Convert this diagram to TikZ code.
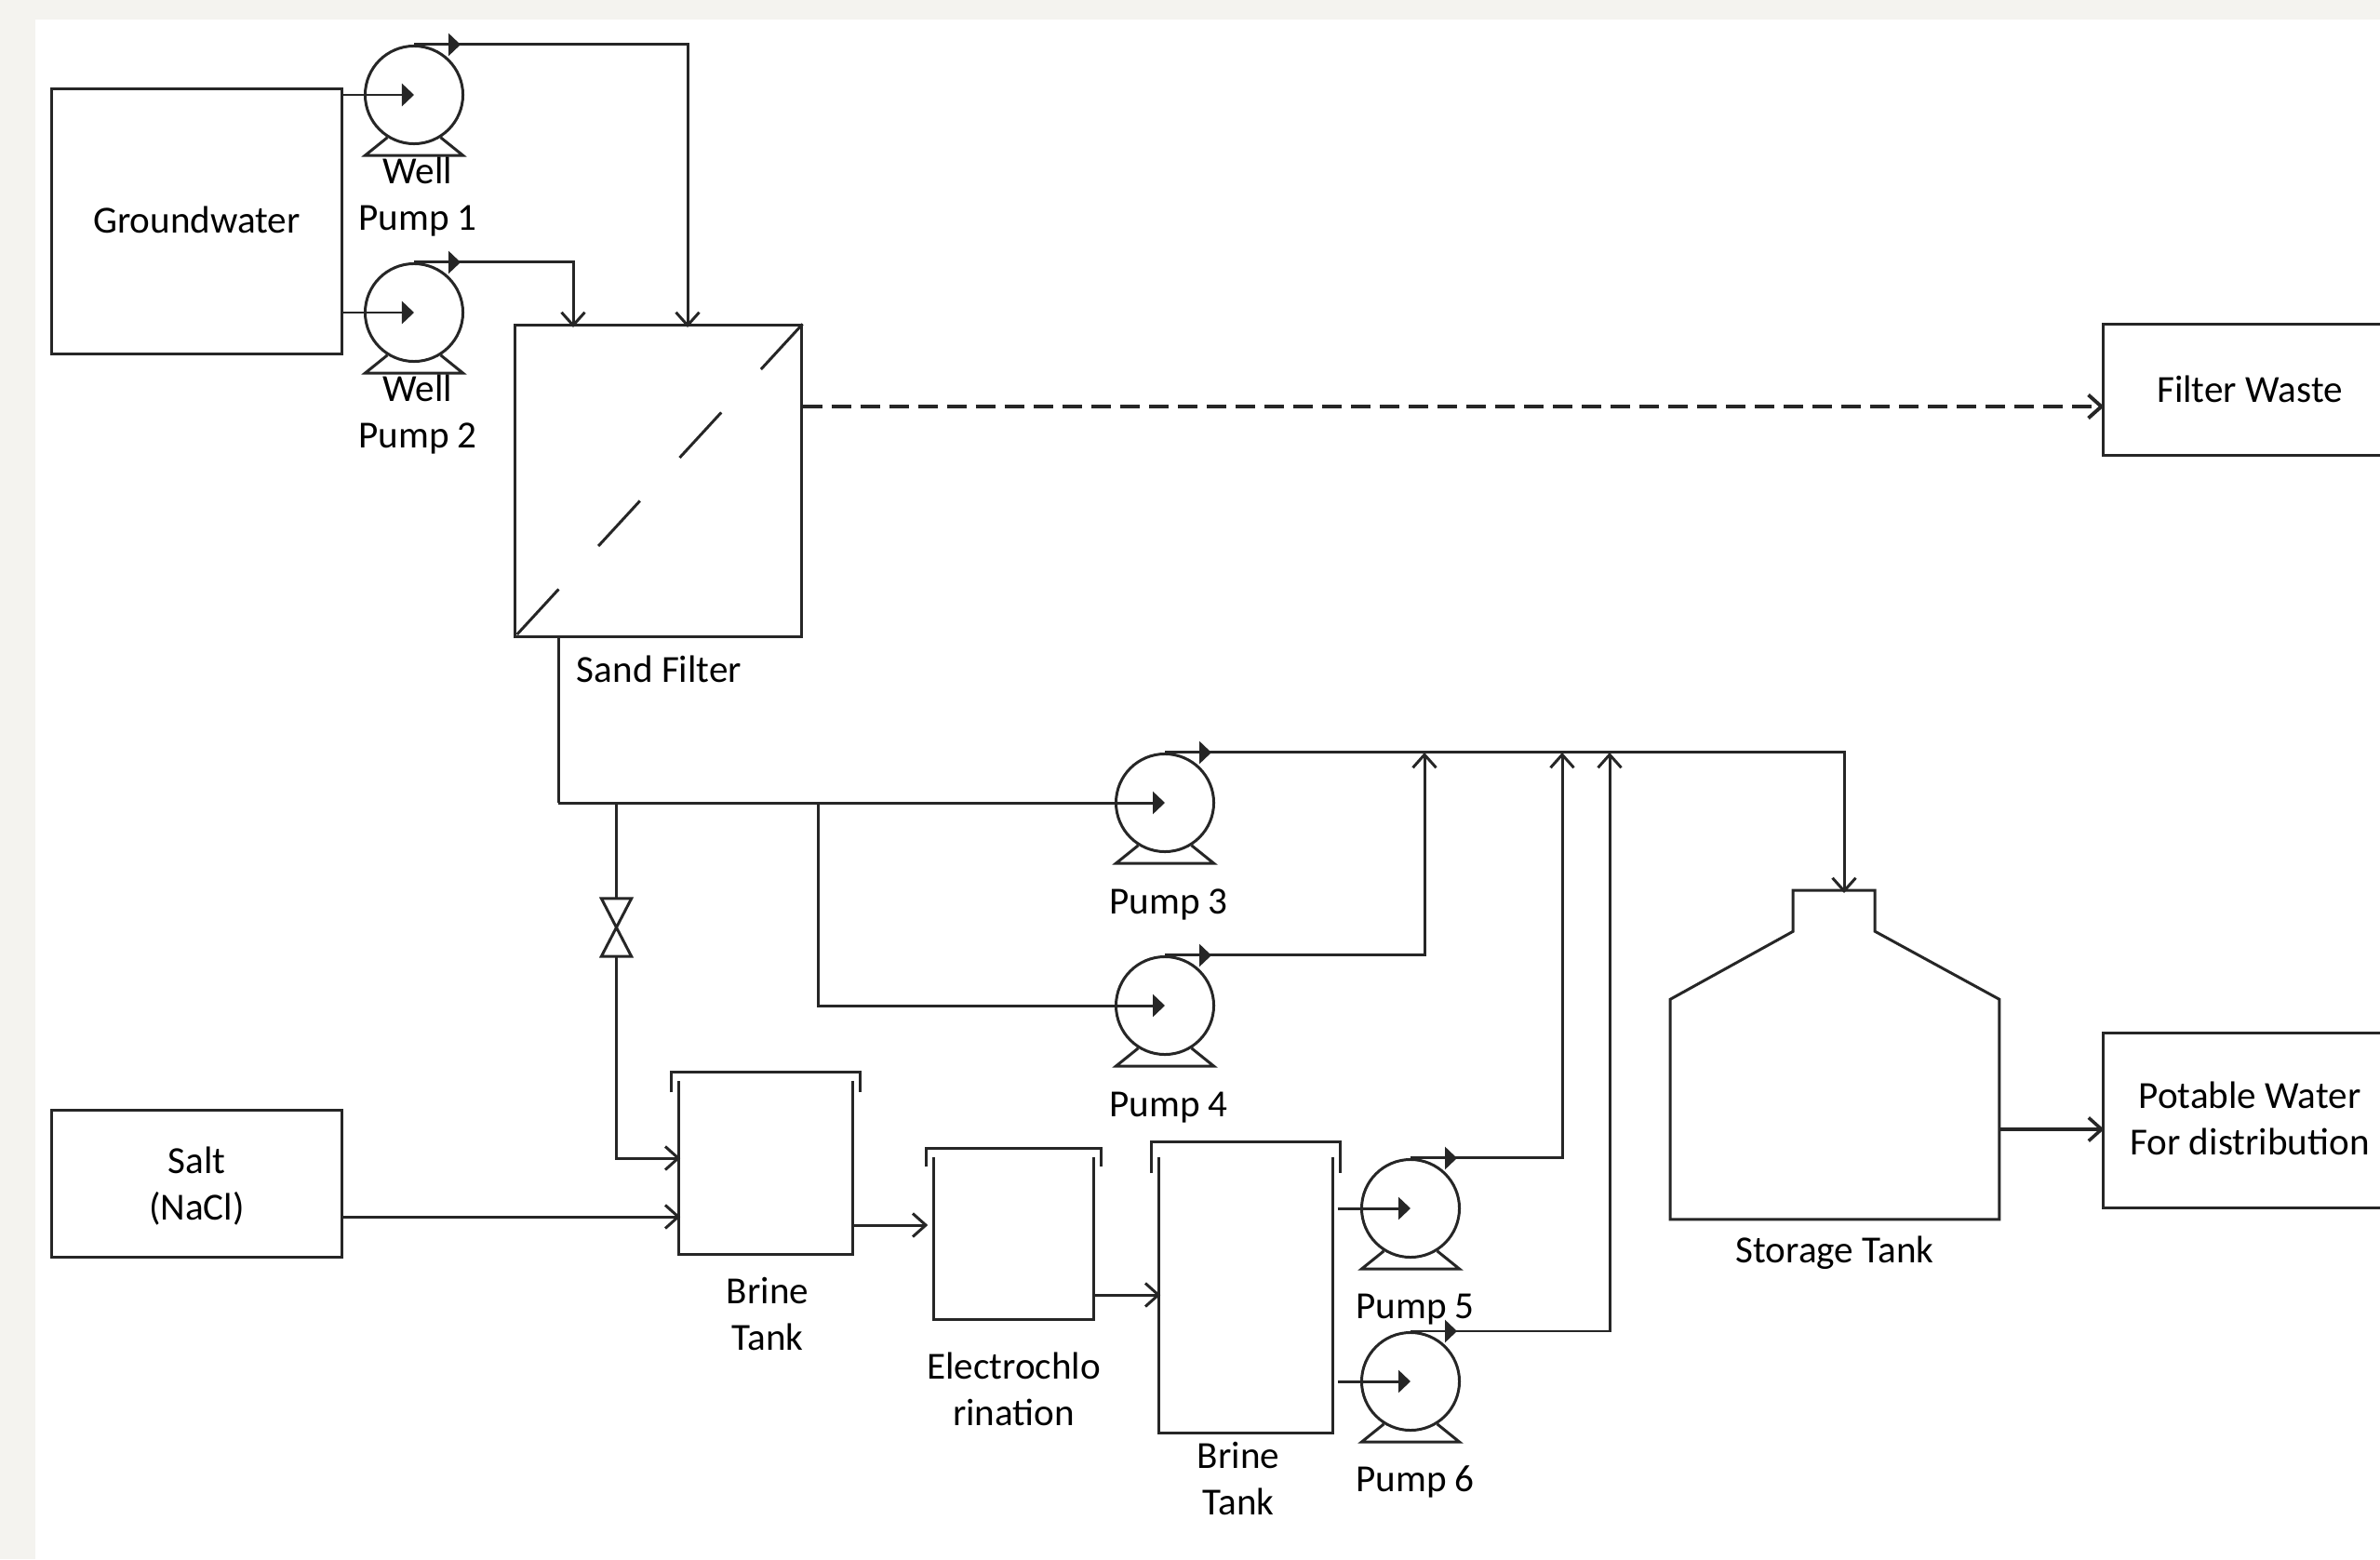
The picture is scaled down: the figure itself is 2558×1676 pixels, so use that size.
\documentclass[tikz,border=0pt]{standalone}
\usepackage{xcolor}
\usepackage{fontspec}
\setmainfont{Carlito}
\usepackage{tikz}
\usetikzlibrary{arrows.meta,positioning}
\definecolor{paper}{RGB}{244,243,239}
\definecolor{ink}{RGB}{38,38,38}

\begin{document}
\begin{tikzpicture}[
    x=0.01cm, y=-0.01cm,
    pipe/.style={draw=ink, line width=0.85pt},
    arr/.style={pipe, shorten >=-0.02cm, -{Straight Barb[length=1.4mm,width=2.5mm]}},
    head/.style={pipe, -{Triangle[length=1.3mm,width=2.4mm]}},
    box/.style={pipe, minimum width=3.11cm, inner sep=0pt},
    pump/.style={pipe, circle, minimum size=1.05cm, inner sep=0pt},
    tank/.style={inner sep=0pt},
    lab/.style={inner sep=0pt, align=center, font=\fontsize{11.7}{14.2}\selectfont}
]
\clip (0,0) rectangle (2558,1676);
\fill[paper] (0,0) rectangle (2558,1676);
\fill[white] (38,21) rectangle (2558,1676);

% sources and sinks
\node[box, minimum height=2.84cm] (gw) at (211.5,238) {};
\node[box, minimum height=1.57cm] (salt) at (211.5,1272.5) {};
\node[box, minimum width=3.14cm, minimum height=1.40cm] (waste) at (2418,419) {};
\node[box, minimum width=3.14cm, minimum height=1.87cm] (water) at (2418,1204.5) {};
\node[lab, yshift=0.02cm] at (gw) {Groundwater};
\node[lab, yshift=-0.03cm] at (salt) {Salt\\(NaCl)};
\node[lab, yshift=0.01cm] at (waste) {Filter Waste};
\node[lab, yshift=0.02cm] at (water) {Potable Water\\For distribution};

% pumps
\node[pump] (wp1) at (445,102) {};
\node[pump] (wp2) at (445,336) {};
\node[pump] (p3) at (1252,863) {};
\node[pump] (p4) at (1252,1081) {};
\node[pump] (p5) at (1516,1299) {};
\node[pump] (p6) at (1516,1485) {};
\foreach \p in {wp1,wp2,p3,p4,p5,p6}
    \draw[pipe] (\p.-122) -- ([shift={(-52.5,11)}]\p.south) -- ([shift={(52.5,11)}]\p.south) -- (\p.-58);
\node[lab, below=0.12cm of wp1, xshift=0.04cm] {Well\\Pump 1};
\node[lab, below=0.12cm of wp2, xshift=0.04cm] {Well\\Pump 2};
\node[lab, below=0.38cm of p3, xshift=0.04cm] {Pump 3};
\node[lab, below=0.38cm of p4, xshift=0.04cm] {Pump 4};
\node[lab, below=0.37cm of p5, xshift=0.05cm] {Pump 5};
\node[lab, below=0.36cm of p6, xshift=0.05cm] {Pump 6};

% sand filter
\node[pipe, minimum width=3.07cm, minimum height=3.34cm, inner sep=0pt] (sf) at (707.5,517) {};
\draw[pipe, dash pattern=on 0.66cm off 0.63cm] (sf.north east) -- (sf.south west);
\node[lab, below=0.19cm of sf, xshift=0.01cm] {Sand Filter};

% tanks
\node[tank, minimum width=1.86cm, minimum height=1.85cm] (br1) at (823,1255.5) {};
\node[tank, minimum width=1.71cm, minimum height=1.73cm] (ec) at (1089.5,1331.5) {};
\node[tank, minimum width=1.86cm, minimum height=2.95cm] (br2) at (1339,1392.5) {};
\foreach \t/\gx/\gt/\gb in {br1/8/10/12,ec/8/10/10,br2/8/17/17} {
    \draw[pipe] (\t.north west) -- (\t.south west) -- (\t.south east) -- (\t.north east);
    \draw[pipe] ([shift={(-\gx,\gb)}]\t.north west) -- ([shift={(-\gx,-\gt)}]\t.north west)
        -- ([shift={(\gx,-\gt)}]\t.north east) -- ([shift={(\gx,\gb)}]\t.north east);
}
\node[lab, below=0.24cm of br1, xshift=0.02cm] {Brine\\Tank};
\node[lab, below=0.34cm of ec] {Electrochlo\\rination};
\node[lab, below=0.09cm of br2, xshift=-0.08cm] {Brine\\Tank};

% storage tank
\node[tank, minimum width=3.52cm, minimum height=2.35cm] (st) at (1972,1192.5) {};
\draw[pipe, line join=miter] (st.south west) -- (st.north west) -- ++(132,-73) -- ++(0,-44) -- ++(88,0)
    -- ++(0,44) -- (st.north east) -- (st.south east) -- cycle;
\node[lab, below=0.17cm of st] {Storage Tank};

% valve
\node[inner sep=0pt, minimum width=0.31cm, minimum height=0.61cm] (vlv) at (662.5,997) {};
\draw[pipe] (vlv.north west) -- (vlv.north east) -- (vlv.south west) -- (vlv.south east) -- cycle;

% ends of the lines on other shapes
\coordinate (sfa) at (616,350);
\coordinate (sfb) at (739,350);
\coordinate (jt) at (600,863);
\coordinate (jv) at (662.5,863);
\coordinate (jb) at (879,863);
\coordinate (m4) at (1531,811);
\coordinate (m5) at (1679,811);
\coordinate (m6) at (1730,811);
\coordinate (sttop) at (1982,958);

% well pump lines
\draw[head] (gw.east |- wp1) -- (wp1.center);
\draw[head] (gw.east |- wp2) -- (wp2.center);
\draw[arr] (wp1.north) -| (sfb);
\draw[arr] (wp2.north) -| (sfa);
\draw[arr, line width=1.1pt, dash pattern=on 0.21cm off 0.10cm] (sf.east |- 0,437) -- (waste.west |- 0,437);

% treated water lines
\draw[pipe] (jt |- sf.south) -- (jt);
\draw[head] (jt) -- (p3.center);
\draw[pipe] (jv) -- (vlv.north);
\draw[arr] (vlv.south) |- (br1.west |- 0,1245);
\draw[head] (jb) |- (p4.center);
\draw[arr] (p3.north) -| (sttop);
\draw[arr] (p4.north) -| (m4);
\draw[arr] (p5.north) -| (m5);
\draw[arr] (p6.north) -| (m6);
\draw[arr, line width=1pt] (st.east |- 0,1214) -- (water.west |- 0,1214);

% brine lines
\draw[arr] (salt.east |- 0,1308) -- (br1.west |- 0,1308);
\draw[arr] (br1.east |- 0,1317) -- ([xshift=-0.08cm]ec.west |- 0,1317);
\draw[arr] (ec.east |- 0,1392) -- (br2.west |- 0,1392);
\draw[head] ([xshift=0.05cm]br2.east |- p5) -- (p5.center);
\draw[head] ([xshift=0.05cm]br2.east |- p6) -- (p6.center);

% flow marks at the pump outlets
\foreach \p in {wp1,wp2,p3,p4,p5,p6}
    \draw[head] (\p.north) -- ++(50,0);
\end{tikzpicture}
\end{document}
